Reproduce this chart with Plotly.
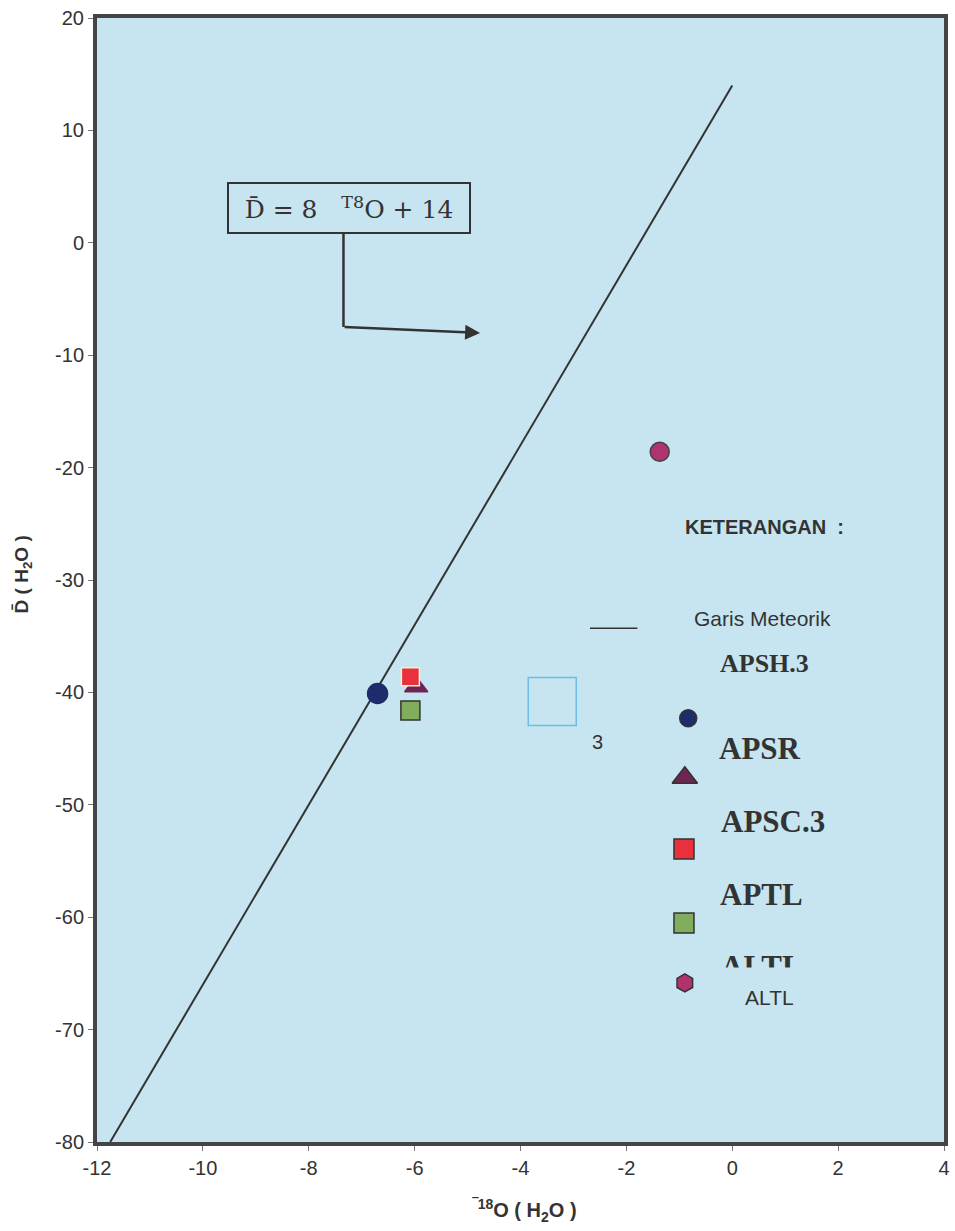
import plotly.graph_objects as go

# ---- data ----
line_x = [-11.75, 0.0]          # Garis Meteorik: D = 8*18O + 14
line_y = [-80.0, 14.0]

samples = ["APSH.3", "APSR", "APSC.3", "APTL", "ALTL"]
o18 = [-6.7, -5.97, -6.08, -6.08, -1.37]
dD = [-40.1, -39.5, -38.6, -41.6, -18.6]

empty_x = [-3.4]
empty_y = [-40.8]

x_ticks = [-12, -10, -8, -6, -4, -2, 0, 2, 4]
y_ticks = [-80, -70, -60, -50, -40, -30, -20, -10, 0, 10, 20]

# ---- styles ----
BG = "#c7e5f0"
TXT = "#333333"
symbols = {"APSH.3": "circle", "APSR": "triangle-up", "APSC.3": "square",
           "APTL": "square", "ALTL": "circle"}
colors = {"APSH.3": "#1d2d6c", "APSR": "#6e2552", "APSC.3": "#e8313c",
          "APTL": "#80ae5c", "ALTL": "#b0336d"}
outlines = {"APSH.3": "#1d2d6c", "APSR": "#6e2552", "APSC.3": "#f6f0c8",
            "APTL": "#333333", "ALTL": "#444444"}
sizes = {"APSH.3": 20, "APSR": 20, "APSC.3": 18, "APTL": 19, "ALTL": 19}
draw_order = ["APSH.3", "APSR", "APSC.3", "APTL", "ALTL"]

# legend layout (fractions of plot area)
leg_marker_pos = {"APSH.3": (0.698, 0.377), "APSR": (0.694, 0.324),
                  "APSC.3": (0.693, 0.2607), "APTL": (0.693, 0.1948),
                  "ALTL": (0.694, 0.1415)}
leg_symbols = {"APSH.3": "circle", "APSR": "triangle-up", "APSC.3": "square",
               "APTL": "square", "ALTL": "hexagon"}
leg_sizes = {"APSH.3": 17, "APSR": 22, "APSC.3": 20, "APTL": 20, "ALTL": 18}

fig = go.Figure()

fig.add_trace(go.Scatter(x=line_x, y=line_y, mode="lines",
                         line=dict(color="#333333", width=2),
                         showlegend=False, hoverinfo="skip"))

fig.add_trace(go.Scatter(x=empty_x, y=empty_y, mode="markers",
                         marker=dict(symbol="square-open", size=48,
                                     color="#6bbde3", line=dict(width=1.5)),
                         showlegend=False))

for name in draw_order:
    i = samples.index(name)
    fig.add_trace(go.Scatter(
        x=[o18[i]], y=[dD[i]], mode="markers", name=name, showlegend=False,
        marker=dict(symbol=symbols[name], size=sizes[name], color=colors[name],
                    line=dict(color=outlines[name], width=1.5))))

# legend markers on an overlay axis (0..1)
for name in samples:
    px, py = leg_marker_pos[name]
    fig.add_trace(go.Scatter(
        x=[px], y=[py], xaxis="x2", yaxis="y2", mode="markers",
        showlegend=False, cliponaxis=False,
        marker=dict(symbol=leg_symbols[name], size=leg_sizes[name],
                    color=colors[name], line=dict(color="#333333", width=1.5))))

# legend line sample
fig.add_shape(type="line", xref="paper", yref="paper", x0=0.582, x1=0.638,
              y0=0.457, y1=0.457, line=dict(color="#333333", width=1.5))

# arrow from equation box
fig.add_shape(type="line", xref="paper", yref="paper", x0=0.291, x1=0.291,
              y0=0.8087, y1=0.7251, line=dict(color="#333333", width=2.5))


def A(**kw):
    d = dict(xref="paper", yref="paper", showarrow=False,
             xanchor="center", yanchor="middle")
    d.update(kw)
    return d


ann = []
ann.append(dict(xref="paper", yref="paper", x=0.4523, y=0.7198,
                ax=-137, ay=-6, axref="pixel", ayref="pixel",
                showarrow=True, arrowhead=2, arrowsize=1.2, arrowwidth=2.5,
                arrowcolor="#333333", text=""))
ann.append(A(x=0.298, y=0.831, text="D̄ = 8   <sup>T8</sup>O + 14",
             font=dict(family="DejaVu Serif", size=25, color=TXT),
             bordercolor="#333333", borderwidth=2, width=238, height=46,
             bgcolor=BG))
ann.append(A(x=0.7875, y=0.547, text="<b>KETERANGAN  :</b>",
             font=dict(family="Liberation Sans", size=20, color=TXT)))
ann.append(A(x=0.786, y=0.466, text="Garis Meteorik",
             font=dict(family="Liberation Sans", size=21, color=TXT)))
serif_labels = [("APSH.3", 0.7885, 0.426, 26), ("APSR", 0.783, 0.3505, 31),
                ("APSC.3", 0.798, 0.2847, 31), ("APTL", 0.785, 0.2206, 31)]
for t, xx, yy, fs in serif_labels:
    ann.append(A(x=xx, y=yy, text="<b>" + t + "</b>",
                 font=dict(family="Liberation Serif", size=fs, color=TXT)))
# clipped label and its cover
ann.append(A(x=0.785, y=0.156, text="<b>ALTL</b>",
             font=dict(family="Liberation Serif", size=31, color=TXT)))
ann.append(A(x=0.785, y=0.1555, text=" ", width=110, height=26, bgcolor=BG,
             yanchor="top", font=dict(size=10)))
ann.append(A(x=0.7935, y=0.129, text="ALTL",
             font=dict(family="Liberation Sans", size=21, color=TXT)))
ann.append(A(x=0.591, y=0.356, text="3",
             font=dict(family="Liberation Sans", size=20, color=TXT)))
# axis titles
ann.append(A(x=0, y=0.505, xshift=-74,
             text="<b>D̄ ( H<sub>2</sub>O )</b>", textangle=-90,
             font=dict(family="Liberation Sans", size=19, color=TXT)))
ann.append(A(x=0.505, y=0, yshift=-68,
             text="<b><sup>‾18</sup>O ( H<sub>2</sub>O )</b>",
             font=dict(family="Liberation Sans", size=20, color=TXT)))

axis_common = dict(showgrid=False, zeroline=False, showline=True, mirror=True,
                   linecolor="#444444", linewidth=4, ticks="outside",
                   ticklen=5, tickcolor="#777777",
                   tickfont=dict(family="Liberation Sans", size=20, color=TXT))

fig.update_layout(
    width=955, height=1231,
    margin=dict(l=97, r=5, t=18, b=89),
    paper_bgcolor="white", plot_bgcolor=BG,
    showlegend=False,
    annotations=ann,
    xaxis=dict(range=[-12, 4], tickvals=x_ticks,
               ticktext=[str(v) for v in x_ticks], **axis_common),
    yaxis=dict(range=[-80, 20], tickvals=y_ticks,
               ticktext=[str(v) for v in y_ticks], **axis_common),
    xaxis2=dict(range=[0, 1], overlaying="x", anchor="y2", visible=False),
    yaxis2=dict(range=[0, 1], overlaying="y", anchor="x2", visible=False),
)

fig.write_html("out.html", config={"displayModeBar": False})

# remove default page margin so the figure fills the window exactly
with open("out.html", "r", encoding="utf-8") as f:
    html = f.read()
html = html.replace("<body>", '<body style="margin:0;overflow:hidden">', 1)
with open("out.html", "w", encoding="utf-8") as f:
    f.write(html)
